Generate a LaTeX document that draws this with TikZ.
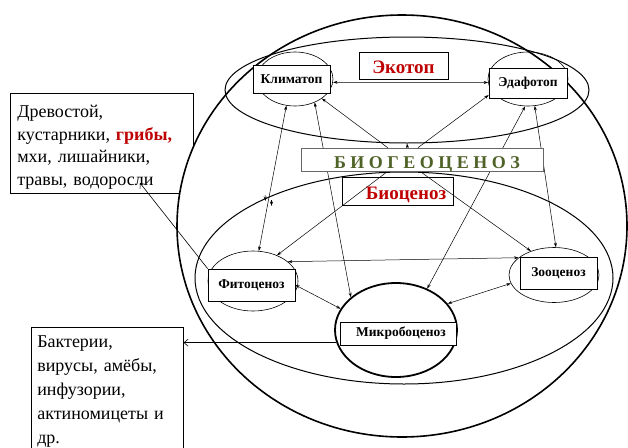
\documentclass[tikz,border=0pt]{standalone}
\usepackage{fontspec}
\setmainfont{Liberation Serif}
\usetikzlibrary{arrows.meta,shapes.geometric,positioning,calc}
\definecolor{ecored}{RGB}{192,0,0}
\definecolor{bgcgreen}{RGB}{79,98,40}
\pgfdeclarelayer{background}
\pgfdeclarelayer{wires}
\pgfsetlayers{background,wires,main}

\begin{document}
\begin{tikzpicture}[x=1pt,y=-1pt,
	oval/.style={ellipse,draw,inner sep=0pt,line width=0.6pt},
	lbl/.style={rectangle,draw,fill=white,inner sep=0pt,line width=0.6pt,font=\bfseries\fontsize{13.5}{15}\selectfont},
	note/.style={rectangle,draw,fill=white,line width=0.6pt,inner ysep=0pt,align=left,anchor=north west},
	both/.style={{Stealth[length=4.5pt,width=3pt]}-{Stealth[length=4.5pt,width=3pt]},line width=0.5pt},
	one/.style={-{Stealth[length=4.5pt,width=3pt]},line width=0.5pt},
	barb/.style={-{Straight Barb[length=4pt,width=7pt]},line width=0.6pt}]
	\useasboundingbox (0,0) rectangle (628,447);
	\begin{pgfonlayer}{background}
		\node[note,inner xsep=7pt,text width=169pt,minimum height=100pt,font=\fontsize{18}{22.7}\selectfont] (drev) at (10,93)
			{\rule{0pt}{20pt}Древостой,\\кустарники, {\color{ecored}\bfseries грибы,}\\мхи, лишайники,\\травы, водоросли};
		\node[oval,fill=white,line width=1.6pt,minimum width=450pt,minimum height=422pt] (geo) at (402,226) {};
	\end{pgfonlayer}
	\node[note,inner xsep=6pt,text width=140pt,minimum height=129pt,font=\fontsize{18}{24}\selectfont] (bakt) at (31,327)
		{Бактерии,\\вирусы, амёбы,\\инфузории,\\актиномицеты и\\др.};
	\node[oval,line width=1pt,minimum width=364pt,minimum height=106pt] (ecoE) at (407,90) {};
	\node[oval,line width=1pt,minimum width=418pt,minimum height=212pt] (bioE) at (404,278) {};
	\node[oval,minimum width=76pt,minimum height=54pt] (klimE) at (295,79) {};
	\node[oval,minimum width=80pt,minimum height=54pt] (edafE) at (528,79) {};
	\node[oval,minimum width=90pt,minimum height=60pt] (fitoE) at (253,281) {};
	\node[oval,minimum width=90pt,minimum height=55pt] (zooE) at (554,275) {};
	\node[oval,line width=1.8pt,minimum width=122pt,minimum height=94pt] (mikE) at (396,330) {};
	\node[lbl,minimum width=77pt,minimum height=28pt] (klim) at (291.5,79) {Климатоп};
	\node[lbl,minimum width=78pt,minimum height=30pt] (edaf) at (528,83) {Эдафотоп};
	\node[lbl,minimum width=87pt,minimum height=32pt] (fito) at (251.5,285) {Фитоценоз};
	\node[lbl,minimum width=77pt,minimum height=32pt] (zoo) at (558.5,273) {Зооценоз};
	\node[lbl,minimum width=116pt,minimum height=23pt] (mik) at (398,333.5) {\hspace*{6pt}Микробоценоз};
	\node[lbl,minimum width=89pt,minimum height=27pt,text height=15pt,text depth=0pt,text=ecored,font=\bfseries\fontsize{19}{20}\selectfont] (eco) at (403.5,65.5) {Экотоп};
	\node[lbl,draw=black!60,minimum width=242pt,minimum height=23pt,text height=18pt,text depth=0pt,text=bgcgreen,font=\bfseries\fontsize{18}{20}\selectfont] (bgc) at (422,159.5) {\hspace*{10pt}Б И О Г Е О Ц Е Н О З};
	\node[lbl,fill=none,minimum width=111pt,minimum height=28pt,text height=16pt,text depth=0pt,text=ecored,font=\bfseries\fontsize{19}{20}\selectfont] (bio) at (397.5,191) {\hspace*{17pt}Биоценоз};
	\coordinate (drevtip) at (140,183);
	\coordinate (glitchA) at (265,195);
	\coordinate (glitchB) at (271.5,200);
	\begin{pgfonlayer}{wires}
		\draw[both] (klimE.-5) -- (edafE.185);
		\draw[both] (klimE.-108) -- (fitoE.79);
		\draw[both] (klimE.-50) -- (mikE.144);
		\draw[one] (bgc.161) -- (klimE.-36);
		\draw[one] (bgc.109) -- (edaf.-163);
		\draw[one] (bgc.141) -- (ecoE.south);
		\draw[both] (edafE.-96) -- (mikE.53);
		\draw[both] (edafE.-76) -- (zooE.86);
		\draw[one] (bgc.-161) -- (fitoE.47);
		\draw[one] (bgc.-100) -- (zooE.134);
		\draw[both] (fitoE.29) -- (zooE.154);
		\draw[both] (fito.east) -- (mikE.159);
		\draw[both] (zooE.-169) -- (mikE.27);
		\draw[barb] (mikE.-168) -- (mikE.-168 -| bakt.east);
		\draw[barb] (fito.north west) -- (drevtip);
		\draw[one] (glitchA) -- ++(0.5,6);
		\draw[one] (glitchB) -- ++(0,6);
	\end{pgfonlayer}
\end{tikzpicture}
\end{document}
